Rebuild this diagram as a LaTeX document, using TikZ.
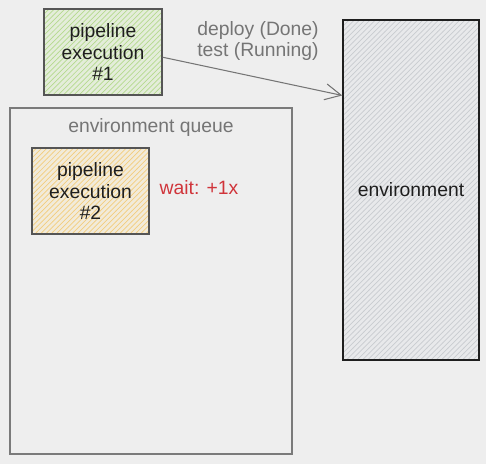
\documentclass[tikz,border=0pt]{standalone}
\usepackage{fontspec}
\setmainfont{Liberation Sans}
\usetikzlibrary{arrows.meta,positioning,patterns}
\definecolor{canvas}{HTML}{EEEEEE}
\definecolor{ink}{HTML}{1E1E1E}
\definecolor{boxline}{HTML}{555555}
\definecolor{queueline}{HTML}{7A7A7A}
\definecolor{note}{HTML}{757575}
\definecolor{waitred}{HTML}{D0343A}
\definecolor{greenfill}{HTML}{E4EDDA}
\definecolor{greenhatch}{HTML}{B5DA8F}
\definecolor{orangefill}{HTML}{F2EBDA}
\definecolor{orangehatch}{HTML}{F2CD7E}
\definecolor{grayfill}{HTML}{E8E9EB}
\definecolor{grayhatch}{HTML}{C9CCD0}
\tikzset{
  txt/.style={font=\fontsize{11}{12.5}\selectfont, text=ink},
  box/.style={txt, draw=boxline, line width=0.8pt, align=center, inner sep=1mm},
  greenbox/.style={box, preaction={fill=greenfill}, preaction={pattern=north east lines, pattern color=greenhatch}},
  orangebox/.style={box, preaction={fill=orangefill}, preaction={pattern=north east lines, pattern color=orangehatch}},
  envbox/.style={box, draw=ink, preaction={fill=grayfill}, preaction={pattern=north east lines, pattern color=grayhatch}},
  queuebox/.style={draw=queueline, line width=0.8pt},
  note/.style={txt, text=note},
  arrow/.style={-{Straight Barb[length=3.2mm, width=3.2mm]}, line width=0.6pt, draw=note}
}

\begin{document}
\begin{tikzpicture}[x=0.02cm, y=-0.02cm]
  \fill[canvas] (0,0) rectangle (486,464);
  \useasboundingbox (0,0) rectangle (486,464);
  % queue and environment
  \node[queuebox, minimum width=5.64cm, minimum height=6.92cm] (queue) at (151,281) {};
  \node[note] (queuetitle) at (151,127) {environment queue};
  \node[envbox, minimum width=2.72cm, minimum height=6.8cm] (env) at (411,190) {environment};
  % pipeline executions
  \node[greenbox, minimum width=2.36cm, minimum height=1.72cm] (exec1) at (103,52) {pipeline\\execution\\\#1};
  \node[orangebox, minimum width=2.34cm, minimum height=1.72cm] (exec2) at (90.5,191) {pipeline\\execution\\\#2};
  \node[txt, text=waitred] (wait) at (199,188) {wait: +1x};
  % running on the environment
  \draw[arrow] (exec1.-5) -- (env.126);
  \node[note, align=left] (stages) at (258,41) {deploy (Done)\\test (Running)};
\end{tikzpicture}
\end{document}
